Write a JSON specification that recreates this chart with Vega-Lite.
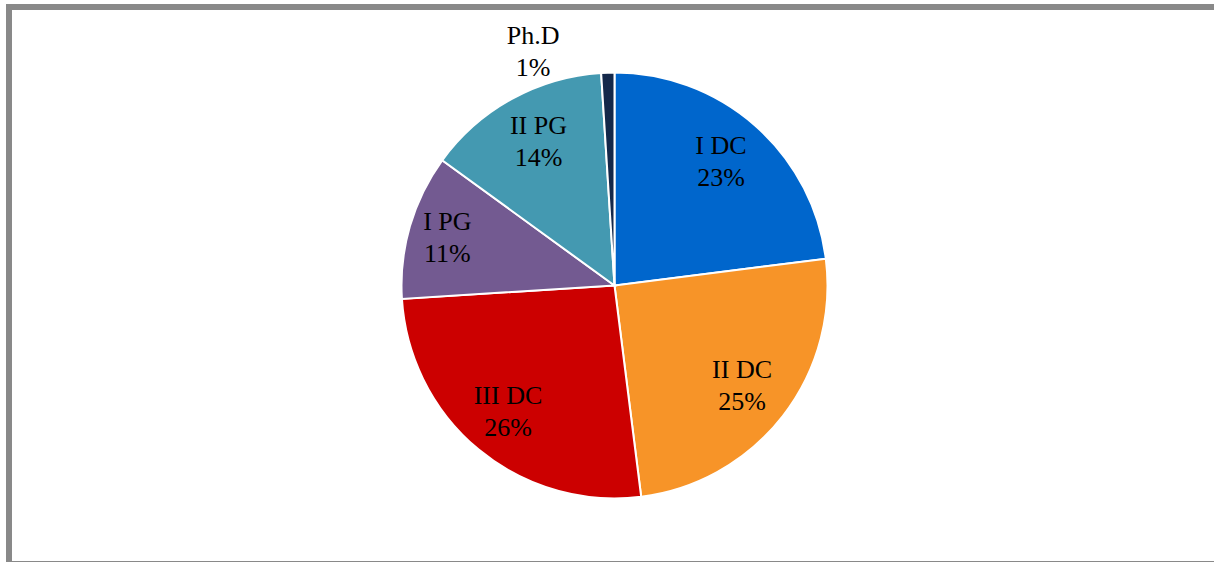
{
  "$schema": "https://vega.github.io/schema/vega-lite/v6.json",
  "autosize": "none",
  "width": 1211,
  "height": 557,
  "padding": {"left": 9, "top": 7, "right": 0, "bottom": 0},
  "background": "white",
  "view": {"stroke": "#898989", "strokeWidth": 6, "fill": "white"},
  "config": {"view": {"stroke": "#898989", "strokeWidth": 6}},
  "data": {
    "values": [
      {"cat": "I DC", "pct": 23},
      {"cat": "II DC", "pct": 25},
      {"cat": "III DC", "pct": 26},
      {"cat": "I PG", "pct": 11},
      {"cat": "II PG", "pct": 14},
      {"cat": "Ph.D", "pct": 1}
    ]
  },
  "transform": [
    {"window": [{"op": "row_number", "as": "idx"}]},
    {"calculate": "datum.cat + '\\n' + datum.pct + '%'", "as": "label"}
  ],
  "encoding": {
    "theta": {"field": "pct", "type": "quantitative", "stack": true},
    "order": {"field": "idx", "type": "quantitative"}
  },
  "layer": [
    {
      "mark": {"type": "arc", "outerRadius": 213, "stroke": "white", "strokeWidth": 2},
      "encoding": {
        "color": {
          "field": "cat",
          "type": "nominal",
          "legend": null,
          "scale": {
            "domain": ["I DC", "II DC", "III DC", "I PG", "II PG", "Ph.D"],
            "range": ["#0066CC", "#F79428", "#CC0000", "#735A91", "#4499B1", "#14284A"]
          }
        }
      }
    },
    {
      "mark": {
        "type": "text",
        "radius": {"expr": "datum.cat === 'Ph.D' ? 234 : (datum.cat === 'I PG' ? 172 : 164)"},
        "dx": {"expr": "datum.cat === 'Ph.D' ? -74 : (datum.cat === 'II PG' ? 3 : -2)"},
        "dy": -16,
        "lineBreak": "\n",
        "lineHeight": 32,
        "font": "Liberation Serif",
        "fontSize": 26,
        "color": "black",
        "align": "center",
        "baseline": "middle"
      },
      "encoding": {
        "text": {"field": "label"}
      }
    }
  ]
}
